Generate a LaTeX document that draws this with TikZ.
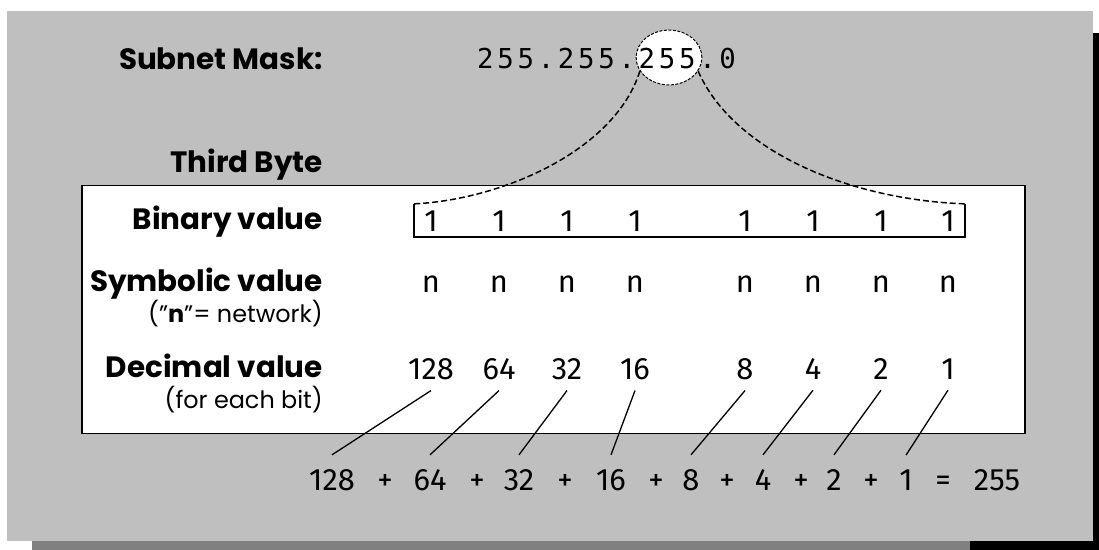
\documentclass[tikz,border=0pt]{standalone}
\usepackage{fontspec}
\setmainfont{Poppins}
\newfontfamily\digitfont{Fira Sans}
\newfontfamily\maskfont[LetterSpace=13.5]{DejaVu Sans Mono}
\usetikzlibrary{shapes.geometric}
\definecolor{panelgray}{gray}{0.75}

\begin{document}
\begin{tikzpicture}[x=1bp, y=-1bp,
  lbl/.style={anchor=base east, inner sep=0pt, font=\fontsize{29.5}{31}\selectfont\bfseries},
  note/.style={anchor=base east, inner sep=0pt, font=\fontsize{24}{26}\selectfont},
  bitval/.style={anchor=base, inner sep=0pt, font=\digitfont\fontsize{31}{33}\selectfont},
  term/.style={anchor=base, inner sep=0pt, font=\digitfont\fontsize{31}{33}\selectfont},
  frame/.style={line width=1.6bp},
  link/.style={line width=1.3bp},
  span/.style={line width=1.5bp, dash pattern=on 6bp off 3bp}]
% page, shadow and grey panel
\fill[white] (0,0) rectangle (1099,550);
\fill[black!50] (32,541) rectangle (970,550);
\fill[black] (970,541) rectangle (1099,550);
\fill[black] (1093,33) rectangle (1099,550);
\fill[panelgray] (7,11) rectangle (1093,541);
% mask line
\node[lbl] (mask) at (323,70) {Subnet Mask:};
\node[draw, ellipse, fill=white, line width=1bp, dash pattern=on 3bp off 1.5bp,
  minimum width=66, minimum height=55, inner sep=0pt] (sel) at (669,57.5) {};
\node[anchor=base west, inner sep=0pt, font=\maskfont\fontsize{27.5}{30}\selectfont] (ip) at (477,69) {255.255.255.0};
\node[lbl] (byte) at (323,173) {Third Byte};
% table
\node[draw, frame, fill=white, minimum width=947, minimum height=249, inner sep=0pt] (tbl) at (553.5,309.5) {};
\node[lbl] (binlbl) at (323,230) {Binary value};
\node[lbl] (symlbl) at (323,292) {Symbolic value};
\node[note] (symnote) at (323,323) {("\textbf{n}"= network)};
\node[lbl] (declbl) at (323,378) {Decimal value};
\node[note] (decnote) at (323,408) {(for each bit)};
\node[minimum width=553, minimum height=33, inner sep=0pt] (bin) at (689.5,220.5) {};
\draw[frame] (bin.north west) -- (bin.south west) -- (bin.south east) -- (bin.north east);
\draw[span] (sel.205) .. controls +(-25,80) and +(87,-4) .. (bin.north west);
\draw[span] (sel.-25) .. controls +(35,80) and +(-116,-4) .. (bin.north east);
% bits and their sum
\foreach \v/\x/\s [count=\i] in {128/431/332, 64/499/430, 32/567/519, 16/635/611,
    8/745/691, 4/813/763, 2/881/834, 1/948/906} {
  \node[bitval] (b\i) at (\x,232) {1};
  \node[bitval] (n\i) at (\x,293) {n};
  \node[term] (d\i) at (\x,380) {\v};
  \node[term] (s\i) at (\s,490) {\v};
  \draw[link] ([yshift=-10bp]d\i.south) -- ([yshift=14bp]s\i.north);
}
\foreach \x [count=\i] in {385,477,565,656,727,801,871}
  \node[term] (p\i) at (\x,490) {+};
\node[term] (eq) at (943,490) {=};
\node[term] (tot) at (997,490) {255};
\end{tikzpicture}
\end{document}
